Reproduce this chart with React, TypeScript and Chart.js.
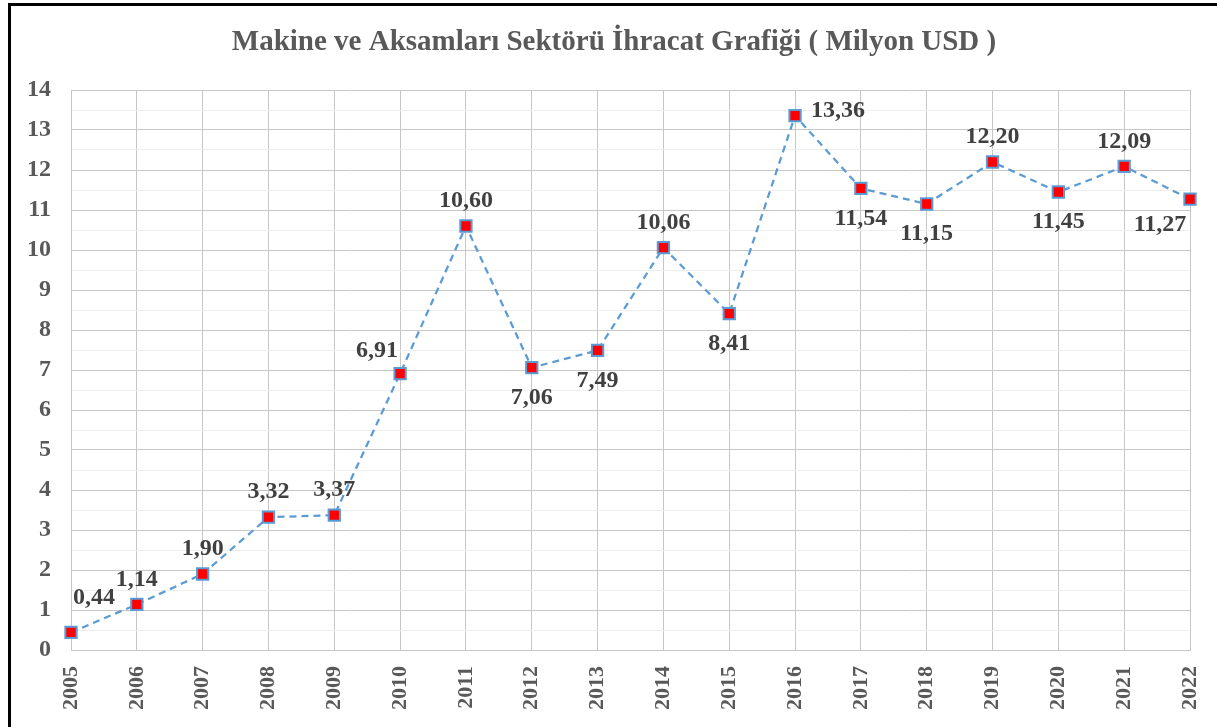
import React, { useEffect, useRef } from "react";
import { Chart, registerables } from "chart.js";

Chart.register(...registerables);

const TITLE = "Makine ve Aksamları Sektörü İhracat Grafiği ( Milyon USD )";
const YEARS = ["2005","2006","2007","2008","2009","2010","2011","2012","2013","2014","2015","2016","2017","2018","2019","2020","2021","2022"];
const VALUES = [0.44,1.14,1.90,3.32,3.37,6.91,10.60,7.06,7.49,10.06,8.41,13.36,11.54,11.15,12.20,11.45,12.09,11.27];
const LABEL_ANCHORS = ["topRight","top","top","top","top","topLeft","top","bottom","bottom","top","bottom","right","bottom","bottom","top","bottom","top","bottomLeft"];
const Y_MIN = 0;
const Y_MAX = 14;

const FONT = "'Liberation Serif', 'Times New Roman', serif";

const fmt = (v: number) => v.toFixed(2).replace(".", ",");

const anchorOffsets: Record<string, { dx: number; dy: number; align: CanvasTextAlign }> = {
  top: { dx: 0, dy: -25, align: "center" },
  bottom: { dx: 0, dy: 30, align: "center" },
  right: { dx: 16, dy: -5, align: "left" },
  topLeft: { dx: -23, dy: -23, align: "center" },
  topRight: { dx: 23, dy: -35, align: "center" },
  bottomLeft: { dx: -30, dy: 26, align: "center" },
};

const overlayPlugin = {
  id: "overlay",
  afterDraw(chart: any) {
    const ctx = chart.ctx;
    ctx.save();
    ctx.fillStyle = "#595959";
    ctx.font = `bold 29px ${FONT}`;
    ctx.textAlign = "center";
    ctx.textBaseline = "middle";
    ctx.fillText(TITLE, chart.width / 2, 37);

    const meta = chart.getDatasetMeta(0);
    ctx.fillStyle = "#404040";
    ctx.font = `bold 24px ${FONT}`;
    meta.data.forEach((pt: any, i: number) => {
      const a = anchorOffsets[LABEL_ANCHORS[i]] || anchorOffsets.top;
      ctx.textAlign = a.align;
      ctx.fillText(fmt(VALUES[i]), pt.x + a.dx, pt.y + a.dy);
    });
    ctx.restore();
  },
};

export default function App() {
  const ref = useRef<HTMLCanvasElement | null>(null);
  useEffect(() => {
    if (!ref.current) return;
    const chart = new Chart(ref.current, {
      type: "line",
      data: {
        labels: YEARS,
        datasets: [
          {
            data: VALUES,
            borderColor: "#5b9bd5",
            borderWidth: 2.25,
            borderDash: [7, 5],
            tension: 0,
            pointStyle: "rect",
            pointRadius: 8,
            pointBackgroundColor: "#ff0000",
            pointBorderColor: "#5b9bd5",
            pointBorderWidth: 2,
          },
        ],
      },
      options: {
        responsive: false,
        animation: false,
        layout: { padding: { top: 84, right: 27, left: 0, bottom: 0 } },
        plugins: { legend: { display: false }, title: { display: false }, tooltip: { enabled: false } },
        scales: {
          x: {
            offset: false,
            grid: { color: "#c6c6c6", drawTicks: false, lineWidth: 1 },
            border: { color: "#c6c6c6" },
            ticks: {
              minRotation: 90,
              maxRotation: 90,
              autoSkip: false,
              padding: 16,
              color: "#595959",
              font: { family: FONT, size: 22, weight: "bold" },
            },
            afterFit: (s: any) => {
              s.height = 77;
              s.paddingLeft = 0;
              s.paddingRight = 0;
            },
          },
          y: {
            min: Y_MIN,
            max: Y_MAX,
            grid: {
              drawTicks: false,
              lineWidth: 1,
              color: (c: any) => (c.tick && Number.isInteger(c.tick.value) ? "#c6c6c6" : "#eeeeee"),
            },
            border: { color: "#c6c6c6" },
            ticks: {
              stepSize: 0.5,
              autoSkip: false,
              padding: 20,
              color: "#595959",
              font: { family: FONT, size: 24, weight: "bold" },
              callback: (v: any) => (Number.isInteger(v) ? String(v) : ""),
            },
            afterFit: (s: any) => { s.width = 60; },
          },
        },
      },
      plugins: [overlayPlugin],
    });
    return () => chart.destroy();
  }, []);

  return (
    <div style={{ position: "fixed", left: 0, top: 0, width: 1217, height: 727, background: "#fff", overflow: "hidden" }}>
      <div style={{ position: "absolute", left: 8, top: 3, width: 1300, height: 800, borderLeft: "3px solid #000", borderTop: "3px solid #000", boxSizing: "border-box" }} />
      <canvas ref={ref} width={1206} height={721} style={{ position: "absolute", left: 11, top: 6, width: 1206, height: 721 }} />
    </div>
  );
}
